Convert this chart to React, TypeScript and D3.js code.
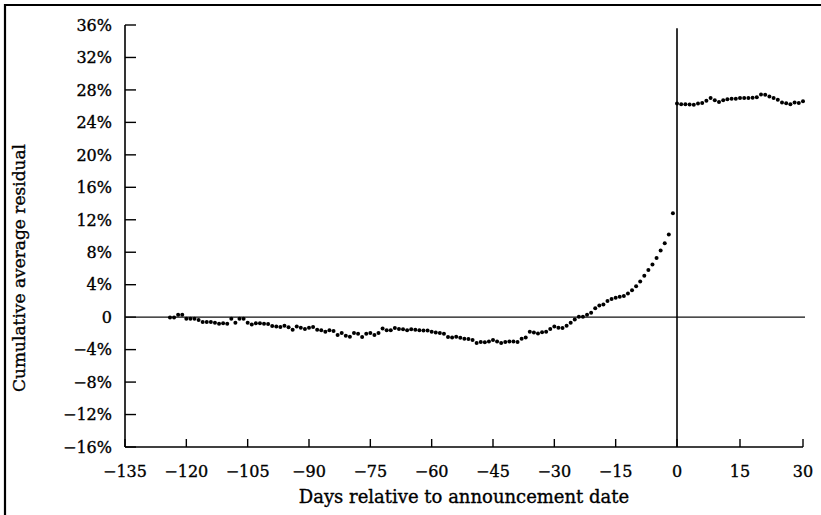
import React from "react";
import * as d3 from "d3";

// cumulative average residual (%), one value per day
const firstDay = -124;
const preEventCar = [
  -0.05, -0.05, 0.3, 0.3, -0.2, -0.2, -0.2, -0.35, -0.6, -0.6,
  -0.6, -0.7, -0.8, -0.75, -0.8, -0.2, -0.7, -0.2, -0.2, -0.7,
  -0.9, -0.75, -0.75, -0.8, -0.85, -1.1, -1.15, -1.2, -1.05, -1.25,
  -1.55, -1.15, -1.3, -1.45, -1.3, -1.2, -1.55, -1.6, -1.8, -1.6,
  -1.7, -2.2, -1.95, -2.3, -2.4, -1.95, -2.05, -2.45, -2.05, -1.95,
  -2.2, -1.95, -1.4, -1.6, -1.6, -1.35, -1.45, -1.5, -1.6, -1.5,
  -1.55, -1.6, -1.65, -1.65, -1.8, -1.9, -1.95, -2.05, -2.45, -2.5,
  -2.4, -2.55, -2.65, -2.7, -2.8, -3.2, -3.05, -3.1, -3.0, -2.8,
  -3.0, -3.2, -3.05, -3.0, -3.0, -3.05, -2.65, -2.5, -1.8, -1.9,
  -2.0, -1.85, -1.8, -1.45, -1.15, -1.3, -1.35, -1.05, -0.7, -0.3,
  0.05, 0.05, 0.3, 0.55, 1.1, 1.45, 1.55, 2.0, 2.25, 2.4,
  2.5, 2.6, 2.9, 3.3, 3.8, 4.4, 5.1, 5.8, 6.5, 7.3,
  8.2, 9.1, 10.2, 12.8,
];
// days 0 .. 30
const postEventCar = [
  26.33, 26.25, 26.25, 26.2, 26.16, 26.33, 26.4, 26.66, 27.0, 26.74,
  26.5, 26.74, 26.86, 26.9, 26.9, 27.0, 27.0, 27.0, 27.05, 27.1,
  27.45, 27.4, 27.2, 27.0, 26.8, 26.45, 26.35, 26.25, 26.45, 26.4,
  26.6,
];

const xTicks = [-135, -120, -105, -90, -75, -60, -45, -30, -15, 0, 15, 30];
const yTicks = [36, 32, 28, 24, 20, 16, 12, 8, 4, 0, -4, -8, -12, -16];

const W = 821;
const H = 515;
const FONT = "'DejaVu Serif', serif";

const x = d3.scaleLinear().domain([-135, 0, 30]).range([125, 677, 803]);
const y = d3.scaleLinear().domain([-16, 36]).range([447, 25]);

const points = [
  ...preEventCar.map((v, i) => ({ day: firstDay + i, v })),
  ...postEventCar.map((v, i) => ({ day: i, v })),
];

const fmtY = (v: number) =>
  v === 0 ? "0" : (v < 0 ? "\u2212" + Math.abs(v) : String(v)) + "%";
const fmtX = (v: number) => (v < 0 ? "\u2212" + Math.abs(v) : String(v));

export default function App() {
  const x0 = x(-135);
  const x1 = x(30);
  const yBottom = y(-16);
  const yTop = y(36);

  // scanned print looks heavy, so give the text a thin outline
  const textStyle = { fill: "#000", stroke: "#000", strokeWidth: 0.35 };

  return (
    <svg
      width={W}
      height={H}
      style={{ position: "absolute", left: 0, top: 0, background: "#fff" }}
      fontFamily={FONT}
    >
      {/* frame */}
      <path d={`M5,${H} V5 H${W}`} fill="none" stroke="#000" strokeWidth={2.2} />

      {/* y axis */}
      <line x1={x0} x2={x0} y1={yTop} y2={yBottom} stroke="#000" strokeWidth={1.6} />
      {yTicks.map((t) => (
        <g key={t}>
          <line x1={x0} x2={x0 + 11} y1={y(t)} y2={y(t)} stroke="#000" strokeWidth={1.4} />
          <text x={112} y={y(t)} dy="0.36em" textAnchor="end" fontSize={16} {...textStyle}>
            {fmtY(t)}
          </text>
        </g>
      ))}

      {/* x axis */}
      <line x1={x0} x2={x1} y1={yBottom} y2={yBottom} stroke="#000" strokeWidth={1.6} />
      {xTicks.map((t) => (
        <g key={t}>
          <line x1={x(t)} x2={x(t)} y1={yBottom} y2={yBottom - 8} stroke="#000" strokeWidth={1.4} />
          <text x={x(t)} y={477} textAnchor="middle" fontSize={16} {...textStyle}>
            {fmtX(t)}
          </text>
        </g>
      ))}

      {/* reference lines */}
      <line x1={x0} x2={x1 + 2} y1={y(0)} y2={y(0)} stroke="#111" strokeWidth={1.1} />
      <line x1={x(0)} x2={x(0)} y1={y(35.6)} y2={yBottom} stroke="#000" strokeWidth={1.6} />

      {/* data */}
      {points.map((p) => (
        <circle key={p.day} cx={x(p.day)} cy={y(p.v)} r={2} fill="#000" />
      ))}

      {/* titles */}
      <text x={464} y={503} textAnchor="middle" fontSize={18} {...textStyle}>
        Days relative to announcement date
      </text>
      <text
        transform="translate(19,268) rotate(-90)"
        dy="0.36em"
        textAnchor="middle"
        fontSize={17}
        {...textStyle}
      >
        Cumulative average residual
      </text>
    </svg>
  );
}
